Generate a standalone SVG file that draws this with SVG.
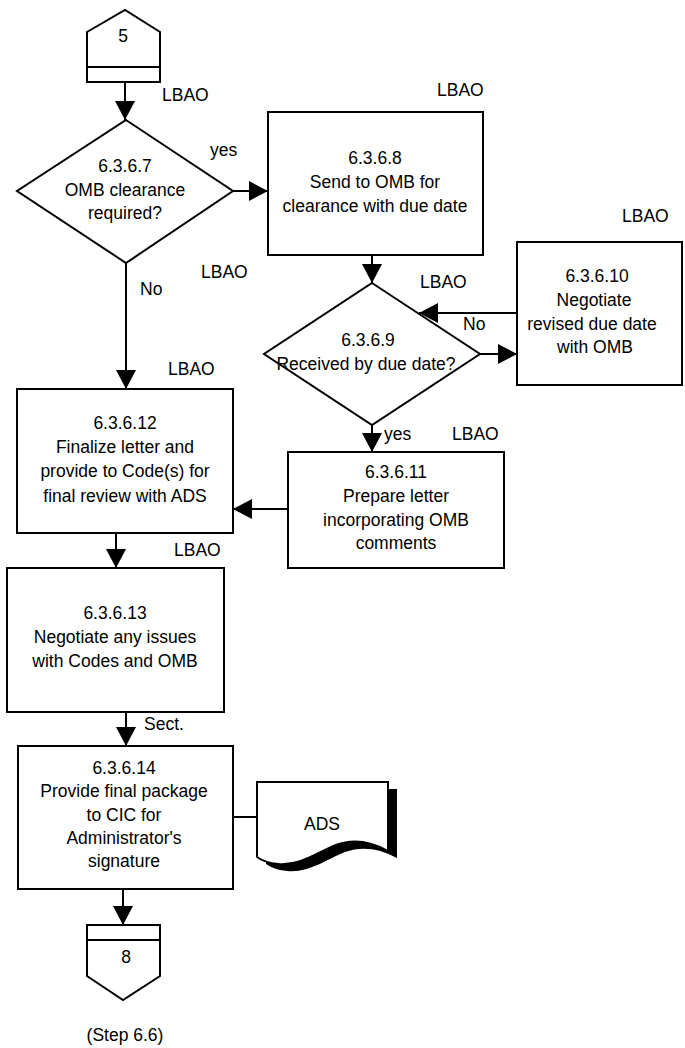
<svg xmlns="http://www.w3.org/2000/svg" width="685" height="1048" viewBox="0 0 685 1048">
<defs>
<marker id="arr" markerUnits="userSpaceOnUse" markerWidth="19" markerHeight="20" refX="19" refY="10" orient="auto" viewBox="0 0 19 20">
<path d="M0,0 L19,10 L0,20 Z" fill="#000"/>
</marker>
</defs>
<style>
text{font-family:"Liberation Sans",Arial,sans-serif;font-size:17.5px;fill:#000}
.c{text-anchor:middle}
.s{fill:#fff;stroke:#000;stroke-width:2}
.e{fill:none;stroke:#000;stroke-width:2}
.a{fill:none;stroke:#000;stroke-width:2;marker-end:url(#arr)}
</style>
<rect width="685" height="1048" fill="#fff"/>
<g id="connectors">
<line class="a" x1="125" y1="82" x2="125" y2="120"/>
<line class="a" x1="233" y1="191" x2="268" y2="191"/>
<line class="a" x1="126" y1="263" x2="126" y2="389"/>
<line class="a" x1="372" y1="255" x2="372" y2="283"/>
<line class="a" x1="480" y1="354" x2="517" y2="354"/>
<line class="a" x1="517" y1="313" x2="419" y2="313"/>
<line class="a" x1="372" y1="425" x2="372" y2="452"/>
<line class="a" x1="288" y1="509" x2="233" y2="509"/>
<line class="a" x1="116" y1="533" x2="116" y2="568"/>
<line class="a" x1="126" y1="712" x2="126" y2="746"/>
<line class="a" x1="123" y1="889" x2="123" y2="925"/>
<line class="e" x1="233" y1="817" x2="257" y2="817"/>
<text x="162" y="101">LBAO</text>
<text x="210" y="156">yes</text>
<text x="140" y="295">No</text>
<text x="201" y="278">LBAO</text>
<text x="437" y="96">LBAO</text>
<text x="622" y="222">LBAO</text>
<text x="420" y="288">LBAO</text>
<text x="463" y="330">No</text>
<text x="384" y="440">yes</text>
<text x="452" y="440">LBAO</text>
<text x="168" y="375">LBAO</text>
<text x="174" y="556">LBAO</text>
<text x="144" y="730">Sect.</text>
</g>
<g id="conn5">
<path class="s" d="M87,32 L125,10 L160,32 L160,82 L87,82 Z"/>
<line class="e" x1="87" y1="67" x2="160" y2="67"/>
<text class="c" x="123" y="42">5</text>
</g>
<g id="d6367">
<path class="s" d="M126,120 L233,191 L126,263 L17,191 Z"/>
<text class="c" x="125" y="172">6.3.6.7</text>
<text class="c" x="125" y="196">OMB clearance</text>
<text class="c" x="125" y="219">required?</text>
</g>
<g id="b6368">
<rect class="s" x="268" y="112" width="215" height="143"/>
<text class="c" x="375" y="164">6.3.6.8</text>
<text class="c" x="375" y="188">Send to OMB for</text>
<text class="c" x="375" y="212">clearance with due date</text>
</g>
<g id="d6369">
<path class="s" d="M372,283 L480,354 L372,425 L264,354 Z"/>
<text class="c" x="368" y="346">6.3.6.9</text>
<text class="c" x="366" y="370">Received by due date?</text>
</g>
<g id="b63610">
<rect class="s" x="517" y="242" width="165" height="143"/>
<text class="c" x="597" y="282">6.3.6.10</text>
<text class="c" x="594" y="306">Negotiate</text>
<text class="c" x="592" y="330">revised due date</text>
<text class="c" x="595" y="353">with OMB</text>
</g>
<g id="b63611">
<rect class="s" x="288" y="452" width="216" height="116"/>
<text class="c" x="396" y="478">6.3.6.11</text>
<text class="c" x="396" y="502">Prepare letter</text>
<text class="c" x="396" y="526">incorporating OMB</text>
<text class="c" x="396" y="549">comments</text>
</g>
<g id="b63612">
<rect class="s" x="17" y="389" width="216" height="144"/>
<text class="c" x="125" y="429">6.3.6.12</text>
<text class="c" x="125" y="453">Finalize letter and</text>
<text class="c" x="125" y="477">provide to Code(s) for</text>
<text class="c" x="125" y="502">final review with ADS</text>
</g>
<g id="b63613">
<rect class="s" x="7" y="568" width="217" height="144"/>
<text class="c" x="115" y="619">6.3.6.13</text>
<text class="c" x="115" y="643">Negotiate any issues</text>
<text class="c" x="115" y="667">with Codes and OMB</text>
</g>
<g id="b63614">
<rect class="s" x="18" y="746" width="215" height="143"/>
<text class="c" x="124" y="774">6.3.6.14</text>
<text class="c" x="124" y="797">Provide final package</text>
<text class="c" x="124" y="821">to CIC for</text>
<text class="c" x="124" y="844">Administrator's</text>
<text class="c" x="124" y="867">signature</text>
</g>
<g id="docADS">
<path d="M266,789 H397 V858 C379,848 361,846 345,852 C325,860 309,873 287,871 C277,870 270,867 266,864 Z" fill="#000"/>
<path class="s" d="M257,782 H388 V851 C370,841 352,839 336,845 C316,853 300,866 278,864 C268,863 261,860 257,857 Z"/>
<text class="c" x="322" y="830">ADS</text>
</g>
<g id="conn8">
<path class="s" d="M87,925 L160,925 L160,976 L123,1000 L87,976 Z"/>
<line class="e" x1="87" y1="940" x2="160" y2="940"/>
<text class="c" x="126" y="963">8</text>
<text class="c" x="125" y="1041">(Step 6.6)</text>
</g>
</svg>
